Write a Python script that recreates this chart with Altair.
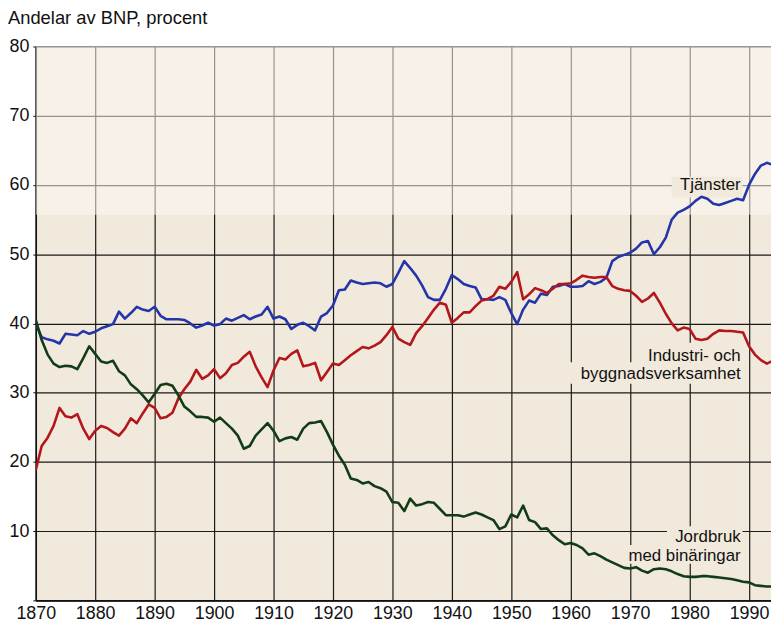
import altair as alt
import pandas as pd

FONT = "Liberation Sans"

years = list(range(1870, 1995))

tjanster = [
    40.0, 38.0, 37.7, 37.5, 37.1, 38.5, 38.4, 38.3, 38.9, 38.5,
    38.8, 39.3, 39.6, 39.9, 41.7, 40.7, 41.5, 42.4, 42.0, 41.8,
    42.4, 41.1, 40.6, 40.6, 40.6, 40.5, 40.0, 39.4, 39.7, 40.1,
    39.7, 39.9, 40.7, 40.4, 40.8, 41.2, 40.6, 41.0, 41.3, 42.4,
    40.7, 41.0, 40.6, 39.2, 39.8, 40.1, 39.6, 39.0, 41.0, 41.5,
    42.6, 44.8, 44.9, 46.2, 45.9, 45.7, 45.8, 45.9, 45.8, 45.3,
    45.7, 47.3, 49.0, 48.0, 46.9, 45.5, 43.8, 43.4, 43.4, 45.0,
    47.0, 46.4, 45.7, 45.4, 45.2, 43.5, 43.5, 43.4, 43.8, 43.4,
    41.5, 39.9, 42.0, 43.3, 43.0, 44.3, 44.1, 45.3, 45.4, 45.7,
    45.3, 45.3, 45.4, 46.1, 45.7, 46.0, 46.6, 49.0, 49.6, 49.9,
    50.2, 50.8, 51.7, 51.9, 50.0, 51.0, 52.4, 55.0, 56.0, 56.4,
    56.9, 57.7, 58.3, 58.0, 57.3, 57.1, 57.4, 57.7, 58.0, 57.8,
    60.0, 61.6, 62.8, 63.2, 62.9,
]

industri = [
    18.8, 22.3, 23.5, 25.2, 27.8, 26.6, 26.4, 26.9, 24.8, 23.3,
    24.5, 25.2, 24.9, 24.3, 23.8, 24.8, 26.3, 25.6, 27.0, 28.3,
    27.8, 26.3, 26.5, 27.1, 29.2, 30.5, 31.6, 33.3, 32.0, 32.5,
    33.4, 32.1, 32.8, 34.0, 34.3, 35.2, 35.9, 33.8, 32.2, 30.8,
    33.2, 35.0, 34.8, 35.6, 36.1, 33.8, 34.0, 34.3, 31.8, 33.0,
    34.2, 34.0, 34.7, 35.4, 36.0, 36.6, 36.4, 36.8, 37.3, 38.3,
    39.5, 37.8, 37.3, 36.9, 38.6, 39.6, 40.8, 42.0, 43.0, 42.7,
    40.1, 40.8, 41.6, 41.6, 42.5, 43.3, 43.5, 44.0, 45.3, 45.0,
    46.0, 47.4, 43.5, 44.2, 45.1, 44.8, 44.4, 45.0, 45.7, 45.7,
    45.8, 46.3, 46.9, 46.7, 46.6, 46.7, 46.7, 45.4, 45.0, 44.8,
    44.7, 44.0, 43.1, 43.6, 44.4, 43.0, 41.4, 40.0, 39.0, 39.4,
    39.2, 37.8, 37.6, 37.8, 38.5, 39.0, 38.9, 38.9, 38.8, 38.7,
    36.7, 35.5, 34.7, 34.2, 34.6,
]

jordbruk = [
    40.5, 37.6, 35.5, 34.2, 33.7, 33.9, 33.8, 33.4, 35.0, 36.7,
    35.6, 34.5, 34.3, 34.6, 33.1, 32.5, 31.2, 30.5, 29.6, 28.6,
    29.8, 31.1, 31.3, 31.0, 29.6, 28.0, 27.3, 26.5, 26.5, 26.4,
    25.8, 26.4, 25.6, 24.8, 23.8, 21.9, 22.3, 23.8, 24.7, 25.6,
    24.5, 23.0, 23.4, 23.6, 23.2, 24.8, 25.6, 25.7, 25.9, 24.3,
    22.5, 20.9, 19.6, 17.6, 17.4, 16.9, 17.1, 16.5, 16.2, 15.7,
    14.2, 14.1, 12.9, 14.7, 13.7, 13.9, 14.2, 14.1, 13.2, 12.3,
    12.3, 12.3, 12.1, 12.4, 12.7, 12.4, 12.0, 11.6, 10.3, 10.7,
    12.4, 12.0, 13.7, 11.6, 11.3, 10.3, 10.4, 9.4, 8.7, 8.1,
    8.3, 8.0, 7.5, 6.6, 6.8, 6.4, 5.9, 5.5, 5.1, 4.7,
    4.6, 4.8, 4.3, 4.0, 4.5, 4.6, 4.5, 4.2, 3.8, 3.5,
    3.4, 3.4, 3.5, 3.5, 3.4, 3.3, 3.2, 3.1, 2.9, 2.7,
    2.6, 2.2, 2.1, 2.0, 2.0,
]

series_names = ["Tjänster", "Industri", "Jordbruk"]
series_colors = ["#2435aa", "#b3161b", "#123c18"]

# label texts (right aligned) and their anchor positions in data units
label_texts = ["Tjänster", "Industri- och", "byggnadsverksamhet", "Jordbruk", "med binäringar"]
label_x = [1988.6, 1988.6, 1988.6, 1988.6, 1988.6]
label_y = [59.3, 34.6, 32.0, 8.4, 5.7]
# backing boxes behind labels (hide grid lines like the original)
box_x = [1977.0, 1971.0, 1958.8, 1976.2, 1967.6]
box_x2 = [1988.9, 1988.9, 1988.9, 1988.9, 1988.9]
box_y = [58.2, 34.4, 31.3, 8.0, 5.3]
box_y2 = [61.2, 37.2, 34.4, 10.7, 8.0]

# lighter band at top of the chart (scan artefact of the original print)
band_y = [55.7]
band_y2 = [80]
band_x = [1870]
band_x2 = [1994]

rows = []
for name, vals in zip(series_names, [tjanster, industri, jordbruk]):
    for yr, v in zip(years, vals):
        rows.append({"year": yr, "value": v, "series": name})
lines_df = pd.DataFrame(rows)

labels_df = pd.DataFrame({"x": label_x, "y": label_y, "text": label_texts})
boxes_df = pd.DataFrame({"x": box_x, "x2": box_x2, "y": box_y, "y2": box_y2})
band_df = pd.DataFrame({"x": band_x, "x2": band_x2, "y": band_y, "y2": band_y2})

VIEW_FILL = "#f1e9db"

x_scale = alt.Scale(domain=[1870, 1993.7], nice=False, zero=False)
y_scale = alt.Scale(domain=[0, 80], nice=False, zero=True)

x_axis = alt.Axis(
    values=list(range(1870, 2000, 10)), format="d", title=None, ticks=False,
    labelPadding=4, labelFontSize=18, labelFont=FONT, labelColor="#111",
    grid=True, gridColor="#1a1a1a", gridWidth=1.2,
    domainColor="#111", domainWidth=1.6, labelFlush=False,
)
y_axis = alt.Axis(
    values=list(range(0, 90, 10)), title=None, ticks=True, tickSize=3,
    tickColor="#111", labelPadding=4, labelFontSize=18, labelFont=FONT,
    labelColor="#111", labelExpr="datum.value == 0 ? '' : datum.label",
    grid=True, gridColor="#1a1a1a", gridWidth=1.2,
    domainColor="#111", domainWidth=1.6,
)

band = alt.Chart(band_df).mark_rect(fill="#fbf8f2", opacity=0.55, clip=True).encode(
    x=alt.X("x:Q", scale=x_scale, axis=x_axis),
    x2="x2:Q",
    y=alt.Y("y:Q", scale=y_scale, axis=y_axis),
    y2="y2:Q",
)

boxes = alt.Chart(boxes_df).mark_rect(fill=VIEW_FILL, clip=True).encode(
    x=alt.X("x:Q", scale=x_scale, axis=x_axis),
    x2="x2:Q",
    y=alt.Y("y:Q", scale=y_scale, axis=y_axis),
    y2="y2:Q",
)

lines = alt.Chart(lines_df).mark_line(strokeWidth=2.6, clip=True, strokeJoin="round").encode(
    x=alt.X("year:Q", scale=x_scale, axis=x_axis),
    y=alt.Y("value:Q", scale=y_scale, axis=y_axis),
    color=alt.Color("series:N", scale=alt.Scale(domain=series_names, range=series_colors), legend=None),
    detail="series:N",
)

labels = alt.Chart(labels_df).mark_text(
    align="right", baseline="alphabetic", font=FONT, fontSize=17, color="#111"
).encode(
    x=alt.X("x:Q", scale=x_scale, axis=x_axis),
    y=alt.Y("y:Q", scale=y_scale, axis=y_axis),
    text="text:N",
)

chart = alt.layer(band, boxes, lines, labels).properties(
    width=742,
    height=559,
    autosize=alt.AutoSizeParams(type="none"),
    padding={"left": 28, "top": 36, "right": 0, "bottom": 22},
    title=alt.TitleParams(
        text="Andelar av BNP, procent", anchor="start", frame="group", dx=-28,
        font=FONT, fontSize=18.5, fontWeight="normal", color="#111",
        baseline="alphabetic", offset=-5,
    ),
).configure_view(fill=VIEW_FILL, stroke=None)

chart.save("out.html", embed_options={"renderer": "svg", "actions": False})
